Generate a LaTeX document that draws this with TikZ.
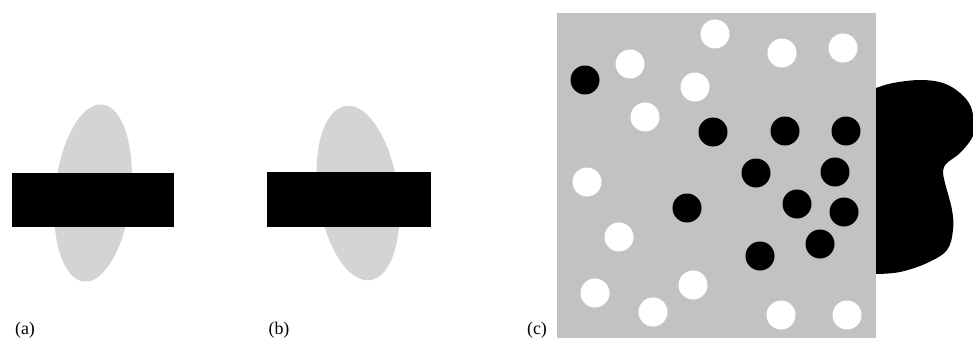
\documentclass[tikz,border=0pt]{standalone}
\usepackage{fontspec}
\setmainfont{Liberation Serif}
\begin{document}
\begin{tikzpicture}[x=1bp,y=1bp,
  blobgray/.style={fill=black!17},
  fieldgray/.style={fill=black!24},
  bar/.style={fill=black},
  dark/.style={fill=black},
  light/.style={fill=white},
  lbl/.style={font=\fontsize{18}{20}\selectfont, inner sep=0pt, anchor=base}]
\useasboundingbox (0,0) rectangle (973,339);
% panel (a)
\fill[blobgray, rotate around={-6:(93,146)}] (93,146) ellipse [x radius=38, y radius=89];
\fill[bar] (12,112) rectangle (174,166);
\node[lbl] (la) at (25,5) {(a)};
% panel (b)
\fill[blobgray, rotate around={8:(358,146)}] (358,146) ellipse [x radius=40, y radius=88];
\fill[bar] (267,112) rectangle (431,167);
\node[lbl] (lb) at (279,5) {(b)};
% panel (c)
\fill[fieldgray] (557,1) rectangle (876,326);
\node[lbl] (lc) at (537,5) {(c)};
\fill[dark] plot[smooth, tension=0.6] coordinates {(876,251) (893,256) (920,259) (943,256) (960,246) (971,232) (974,212) (972,201) (960,186) (947,176) (943,168) (945,156) (952,129) (953,109) (947,89) (927,76) (900,67) (876,65)} -- cycle;
% white circles
\foreach \p in {(715,305),(782,286),(843,291),(630,275),(695,252),(645,222),(587,157),(619,102),(693,54),(595,46),(653,27),(781,24),(847,24)}
  \fill[light] \p circle (14.5);
% black circles
\foreach \p in {(585,259),(713,207),(785,208),(846,208),(756,166),(835,167),(687,131),(797,135),(844,127),(820,95),(760,83)}
  \fill[dark] \p circle (14.5);
\end{tikzpicture}
\end{document}
